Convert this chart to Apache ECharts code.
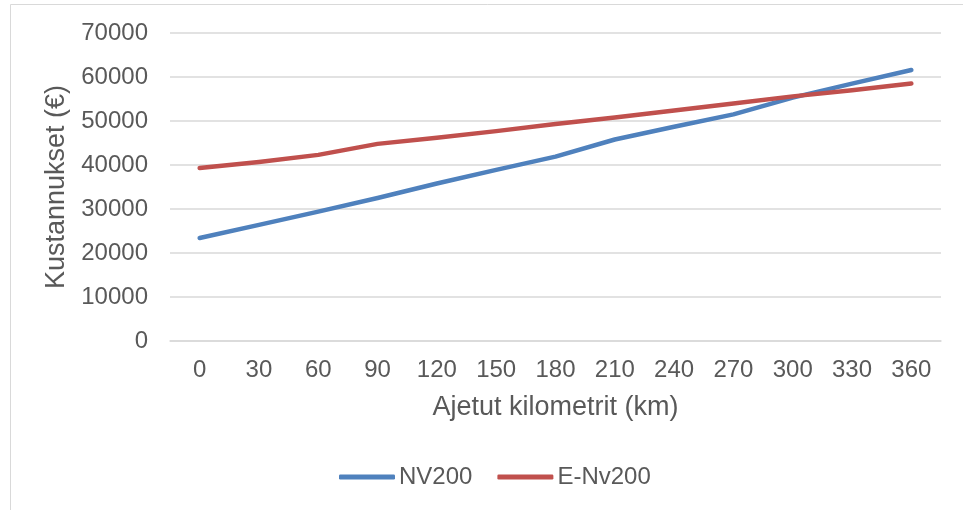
<!DOCTYPE html>
<html lang="fi">

<head>
    <meta charset="UTF-8">
    <title>Kustannukset</title>
    <script src="https://cdn.jsdelivr.net/npm/echarts@6/dist/echarts.min.js"></script>
    <style>
        html, body { margin: 0; padding: 0; background: #fff; }
        #main { width: 963px; height: 510px; }
    </style>
</head>

<body>
    <div id="main"></div>
    <script>
        var km = ['0', '30', '60', '90', '120', '150', '180', '210', '240', '270', '300', '330', '360'];
        var nv200 = [23400, 26400, 29400, 32500, 35800, 38900, 41900, 45800, 48700, 51500, 55300, 58500, 61600];
        var eNv200 = [39300, 40700, 42300, 44800, 46200, 47700, 49300, 50800, 52400, 54000, 55600, 57000, 58500];
        var yTicks = [0, 10000, 20000, 30000, 40000, 50000, 60000, 70000];

        var textColor = '#595959';
        var font = '"Liberation Sans", Arial, sans-serif';

        var myChart = echarts.init(document.getElementById('main'));

        var option = {
            animation: false,
            textStyle: { fontFamily: font, color: textColor },
            graphic: [{ // chart border
                type: 'rect',
                shape: { x: 10.5, y: 4.5, width: 1000, height: 600 },
                style: { fill: 'none', stroke: '#d9d9d9', lineWidth: 1 },
                silent: true
            }],
            grid: {
                left: 170,
                right: 22,
                top: 33,
                bottom: 169
            },
            legend: {
                bottom: 16,
                left: 334,
                itemWidth: 56,
                itemHeight: 5,
                itemGap: 25,
                icon: 'roundRect',
                textStyle: { fontSize: 24, color: textColor, fontFamily: font, padding: [0, 0, 0, -1] },
                data: ['NV200', 'E-Nv200']
            },
            xAxis: {
                type: 'category',
                data: km,
                boundaryGap: true,
                name: 'Ajetut kilometrit (km)',
                nameLocation: 'middle',
                nameGap: 53,
                nameTextStyle: { fontSize: 27, color: textColor, fontFamily: font },
                axisLine: { lineStyle: { color: '#d9d9d9', width: 1.5 } },
                axisTick: { show: false },
                axisLabel: { fontSize: 24, color: textColor, margin: 17, interval: 0 }
            },
            yAxis: {
                type: 'value',
                min: yTicks[0],
                max: yTicks[yTicks.length - 1],
                interval: 10000,
                name: 'Kustannukset (€)',
                nameLocation: 'middle',
                nameGap: 94,
                nameTextStyle: { fontSize: 27, color: textColor, fontFamily: font },
                axisLine: { show: false },
                axisTick: { show: false },
                axisLabel: {
                    fontSize: 24,
                    color: textColor,
                    margin: 22,
                    formatter: function (v) { return String(v); }
                },
                splitLine: { lineStyle: { color: '#d9d9d9', width: 1.5 } }
            },
            series: [{
                name: 'NV200',
                type: 'line',
                data: nv200,
                symbol: 'none',
                color: '#4f81bd',
                lineStyle: { width: 4.5, cap: 'round', join: 'round' }
            }, {
                name: 'E-Nv200',
                type: 'line',
                data: eNv200,
                symbol: 'none',
                color: '#c0504d',
                lineStyle: { width: 4.5, cap: 'round', join: 'round' }
            }]
        };

        myChart.setOption(option);
    </script>
</body>

</html>
